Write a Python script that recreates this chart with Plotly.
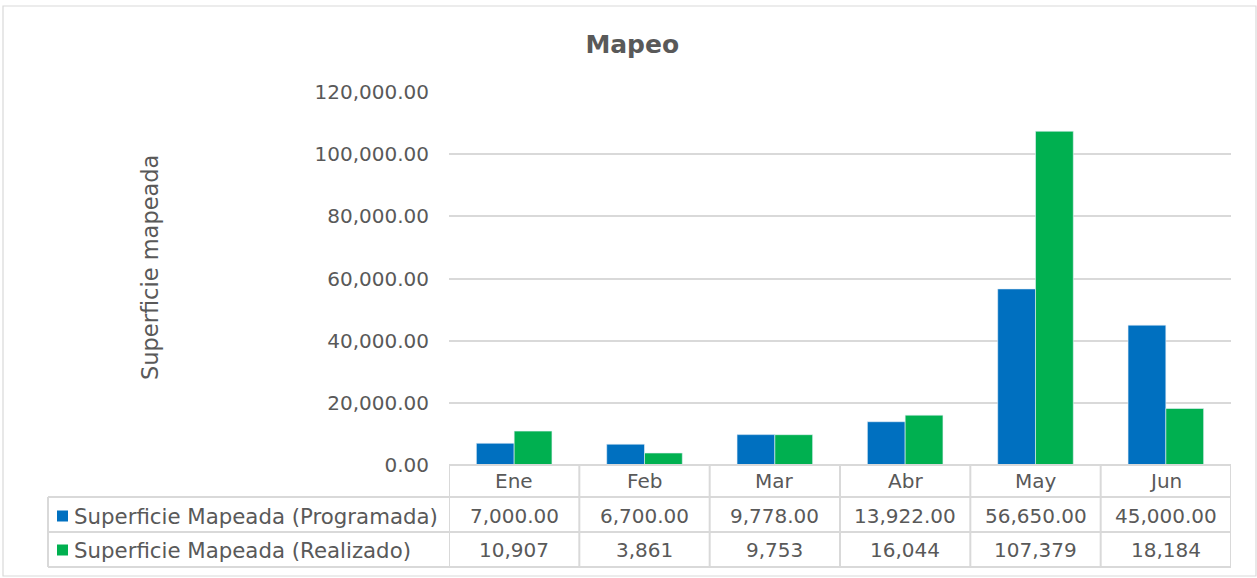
import plotly.graph_objects as go

categories = ["Ene", "Feb", "Mar", "Abr", "May", "Jun"]
programada = [7000.00, 6700.00, 9778.00, 13922.00, 56650.00, 45000.00]
realizado = [10907, 3861, 9753, 16044, 107379, 18184]
series_names = ["Superficie Mapeada (Programada)", "Superficie Mapeada (Realizado)"]
colors = ["#0070C0", "#00B050"]

W, H = 1257, 578
L, R, T, B = 449, 1231, 92, 465
FONT = "DejaVu Sans"
FS = 20
GRAY = "#595959"
LINE = "#D9D9D9"

def py(p):  # pixel y -> paper y
    return (B - p) / (B - T)

def px(p):  # pixel x -> paper x
    return (p - L) / (R - L)

fig = go.Figure()
fig.add_trace(go.Bar(x=categories, y=programada, name=series_names[0],
                     marker=dict(color=colors[0], line=dict(width=0.6, color="#E8F0F8"))))
fig.add_trace(go.Bar(x=categories, y=realizado, name=series_names[1],
                     marker=dict(color=colors[1], line=dict(width=0.6, color="#E8F0F8"))))

shapes = []
# outer border
shapes.append(dict(type="rect", xref="paper", yref="paper", x0=px(3), x1=px(1256), y0=py(576), y1=py(6),
                   line=dict(color=LINE, width=1.2), layer="below"))
# table horizontal lines
shapes.append(dict(type="line", xref="paper", yref="paper", x0=px(L), x1=px(R), y0=py(465), y1=py(465),
                   line=dict(color=LINE, width=2)))
for yy in [497, 532, 567]:
    shapes.append(dict(type="line", xref="paper", yref="paper", x0=px(48), x1=px(R), y0=py(yy), y1=py(yy),
                       line=dict(color=LINE, width=2)))
# vertical lines
shapes.append(dict(type="line", xref="paper", yref="paper", x0=px(48), x1=px(48), y0=py(497), y1=py(567),
                   line=dict(color=LINE, width=2)))
for i in range(len(categories) + 1):
    shapes.append(dict(type="line", xref="x", yref="paper", x0=i - 0.5, x1=i - 0.5, y0=py(465), y1=py(567),
                       line=dict(color=LINE, width=2)))
# legend swatches
for k, yy in enumerate([516, 550]):
    shapes.append(dict(type="rect", xref="paper", yref="paper", x0=px(57), x1=px(68), y0=py(yy + 5.5), y1=py(yy - 5.5),
                       fillcolor=colors[k], line=dict(width=0)))

annotations = []
for i, c in enumerate(categories):
    annotations.append(dict(x=c, xref="x", y=py(481), yref="paper", text=c, showarrow=False,
                            font=dict(family=FONT, size=FS, color=GRAY), xanchor="center", yanchor="middle"))
    annotations.append(dict(x=c, xref="x", y=py(516), yref="paper", text=f"{programada[i]:,.2f}", showarrow=False,
                            font=dict(family=FONT, size=FS, color=GRAY), xanchor="center", yanchor="middle"))
    annotations.append(dict(x=c, xref="x", y=py(550), yref="paper", text=f"{realizado[i]:,.0f}", showarrow=False,
                            font=dict(family=FONT, size=FS, color=GRAY), xanchor="center", yanchor="middle"))
for k, yy in enumerate([516, 550]):
    annotations.append(dict(x=px(72), xref="paper", y=py(yy), yref="paper", text=series_names[k], showarrow=False,
                            font=dict(family=FONT, size=21.3, color=GRAY), xanchor="left", yanchor="middle"))
# y-axis title
annotations.append(dict(x=px(150), xref="paper", y=py(268), yref="paper", text="Superficie mapeada", showarrow=False,
                        textangle=-90, font=dict(family=FONT, size=22.5, color=GRAY), xanchor="center", yanchor="middle"))

fig.update_layout(
    width=W, height=H,
    margin=dict(l=L, r=W - R, t=T, b=H - B),
    paper_bgcolor="white", plot_bgcolor="white",
    title=dict(text="<b>Mapeo</b>", x=0.503, xref="container", y=1 - 44 / H, yref="container",
               xanchor="center", yanchor="middle", font=dict(family=FONT, size=25, color=GRAY)),
    showlegend=False,
    barmode="group", bargap=0.42, bargroupgap=0,
    font=dict(family=FONT, color=GRAY),
    shapes=shapes, annotations=annotations,
)
fig.update_xaxes(showticklabels=False, showgrid=False, zeroline=False, showline=False, range=[-0.5, 5.5])
fig.update_yaxes(range=[0, 120000], dtick=20000, tickformat=",.2f", showgrid=True, gridcolor=LINE, gridwidth=2,
                 zeroline=False, showline=False, ticks="", ticklabelstandoff=19,
                 tickfont=dict(family=FONT, size=FS, color=GRAY))

fig.write_html("out.html", config={"displayModeBar": False},
               post_script="document.body.style.margin='0';")
